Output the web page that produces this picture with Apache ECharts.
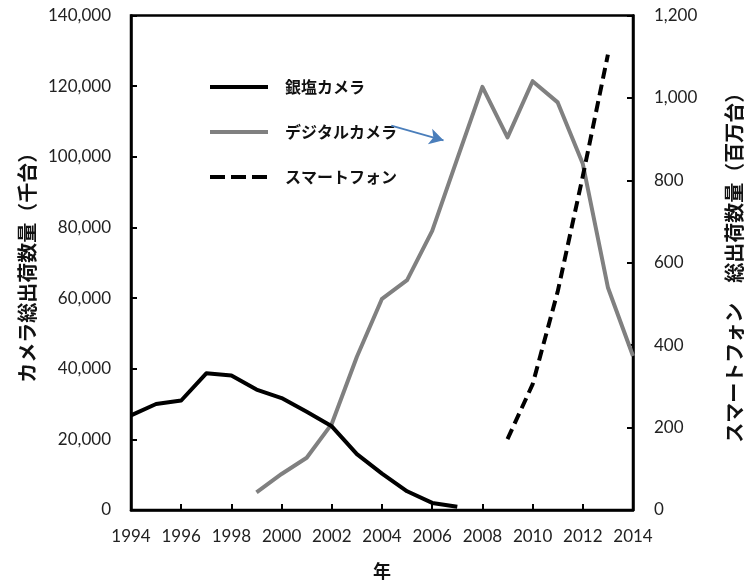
<!DOCTYPE html>
<html>
<head>
<meta charset="utf-8">
<style>
  html, body { margin: 0; padding: 0; background: #fff; }
  #chart { width: 752px; height: 585px; }
</style>
<script src="https://cdn.jsdelivr.net/npm/echarts@6/dist/echarts.min.js"></script>
</head>
<body>
<div id="chart"></div>
<script>
// 年ごとの出荷数量
const filmYears = [1994, 1995, 1996, 1997, 1998, 1999, 2000, 2001, 2002, 2003, 2004, 2005, 2006, 2007];
const filmValues = [26800, 30000, 31000, 38700, 38100, 34100, 31700, 27800, 23700, 15800, 10300, 5300, 2000, 900]; // 千台

const digitalYears = [1999, 2000, 2001, 2002, 2003, 2004, 2005, 2006, 2007, 2008, 2009, 2010, 2011, 2012, 2013, 2014];
const digitalValues = [5000, 10200, 14800, 24400, 43400, 59800, 65100, 79000, 99500, 119800, 105500, 121400, 115400, 98000, 63000, 43600]; // 千台

const phoneYears = [2009, 2010, 2011, 2012, 2013];
const phoneValues = [172, 305, 530, 810, 1105]; // 百万台

const seriesNames = ['銀塩カメラ', 'デジタルカメラ', 'スマートフォン'];

// 凡例「デジタルカメラ」から線へ向かう矢印（データ座標）
const arrowFrom = [2004.37, 108800];
const arrowTo = [2006.45, 104650];

const pairs = (xs, ys) => xs.map((x, i) => [x, ys[i]]);
const fmt = v => v.toLocaleString('en-US');

const numFont = 'Lato';
const jpFont = '"Noto Sans CJK JP"';
const axisColor = '#000';
const labelColor = '#222';
const lineW = 4;

const chart = echarts.init(document.getElementById('chart'), null, { renderer: 'canvas' });

chart.setOption({
  animation: false,
  backgroundColor: '#fff',
  grid: {
    left: 131, right: 110, top: 15.5, bottom: 64.5,
    show: true, borderColor: axisColor, borderWidth: 2.5,
    backgroundColor: 'transparent'
  },
  legend: {
    orient: 'vertical',
    left: 203,
    top: 74,
    itemWidth: 58,
    itemHeight: 16,
    itemGap: 29,
    itemStyle: { opacity: 0 },
    lineStyle: { width: lineW },
    data: [
      { name: seriesNames[0] },
      { name: seriesNames[1] },
      { name: seriesNames[2], lineStyle: { width: lineW, type: [15, 6] } }
    ],
    textStyle: {
      fontFamily: jpFont, fontWeight: 'bold', fontSize: 16, color: '#111',
      lineHeight: 16, padding: [0, 0, 0, 12]
    }
  },
  xAxis: {
    type: 'value',
    min: 1994, max: 2014, interval: 2,
    name: '年',
    nameLocation: 'middle',
    nameGap: 52,
    nameTextStyle: { fontFamily: jpFont, fontWeight: 'bold', fontSize: 18, color: '#111' },
    axisLine: { show: true, lineStyle: { color: axisColor, width: 2.5 } },
    axisTick: { show: true, inside: true, length: 6, lineStyle: { color: axisColor, width: 2 } },
    axisLabel: { margin: 18, fontFamily: numFont, fontSize: 17, color: labelColor, formatter: v => String(v) },
    splitLine: { show: false }
  },
  yAxis: [
    {
      type: 'value',
      position: 'left',
      min: 0, max: 140000, interval: 20000,
      name: 'カメラ総出荷数量（千台）',
      nameLocation: 'middle',
      nameRotate: 90,
      nameGap: 93,
      nameTextStyle: { fontFamily: jpFont, fontWeight: 'bold', fontSize: 20, color: '#111' },
      axisLine: { show: true, lineStyle: { color: axisColor, width: 2.5 } },
      axisTick: { show: true, inside: true, length: 6, lineStyle: { color: axisColor, width: 2 } },
      axisLabel: { margin: 20, fontFamily: numFont, fontSize: 17, color: labelColor, formatter: fmt },
      splitLine: { show: false }
    },
    {
      type: 'value',
      position: 'right',
      min: 0, max: 1200, interval: 200,
      name: 'スマートフォン　総出荷数量（百万台）',
      nameLocation: 'middle',
      nameRotate: 90,
      nameGap: 91,
      nameTextStyle: { fontFamily: jpFont, fontWeight: 'bold', fontSize: 20, color: '#111' },
      axisLine: { show: true, lineStyle: { color: axisColor, width: 2.5 } },
      axisTick: { show: true, inside: true, length: 6, lineStyle: { color: axisColor, width: 2 } },
      axisLabel: { margin: 21, fontFamily: numFont, fontSize: 17, color: labelColor, formatter: fmt },
      splitLine: { show: false }
    }
  ],
  series: [
    {
      name: seriesNames[0],
      type: 'line',
      yAxisIndex: 0,
      data: pairs(filmYears, filmValues),
      symbol: 'none',
      lineStyle: { color: '#000', width: lineW, join: 'round' },
      itemStyle: { color: '#000' },
      z: 3
    },
    {
      name: seriesNames[1],
      type: 'line',
      yAxisIndex: 0,
      data: pairs(digitalYears, digitalValues),
      symbol: 'none',
      lineStyle: { color: '#808080', width: lineW, join: 'round' },
      itemStyle: { color: '#808080' },
      z: 2,
      markLine: {
        silent: true,
        symbol: ['none', 'arrow'],
        symbolSize: [12, 14],
        label: { show: false },
        lineStyle: { color: '#4a7ebb', width: 1.8, type: 'solid' },
        data: [[{ coord: arrowFrom }, { coord: arrowTo }]]
      }
    },
    {
      name: seriesNames[2],
      type: 'line',
      yAxisIndex: 1,
      data: pairs(phoneYears, phoneValues),
      symbol: 'none',
      lineStyle: { color: '#000', width: lineW, type: [11, 6], join: 'miter' },
      itemStyle: { color: '#000' },
      z: 4
    }
  ]
});
</script>
</body>
</html>
